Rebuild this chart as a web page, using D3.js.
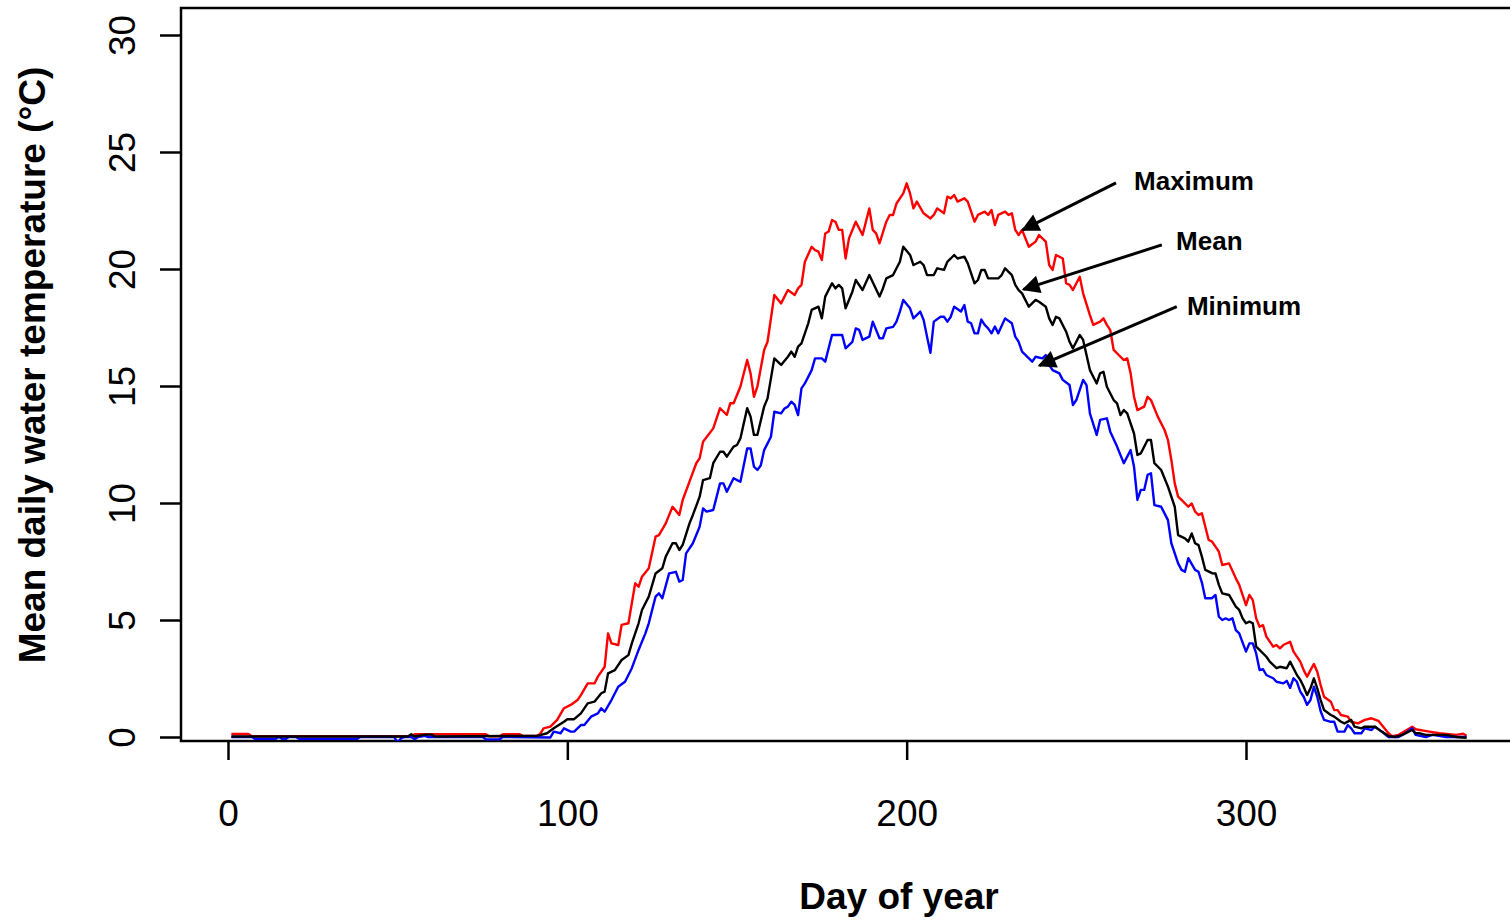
<!DOCTYPE html>
<html>
<head>
<meta charset="utf-8">
<script src="https://cdn.jsdelivr.net/npm/d3@7"></script>
<style>
  body { margin: 0; background: #fff; }
  svg { display: block; font-family: "Liberation Sans", Arial, sans-serif; }
</style>
</head>
<body>
<svg id="chart" width="1510" height="922"></svg>
<script>
// daily water temperature, [day of year, deg C]
const maxSeries = [[1,0.13],[6,0.13],[7,0.03],[54,0.03],[55,0.12],[76,0.12],[77,0.03],[80,0.03],[81,0.12],[86,0.12],[87,0.04],[91,0.05],[92,0.13],
  [93,0.37],[95,0.44],[97,0.73],[99,1.23],[101,1.37],[103,1.58],[104,1.79],[106,2.29],[108,2.29],[109,2.58],[111,3.0],[112,4.43],[113,4.0],[115,3.93],
  [116,4.79],[118,4.86],[119,5.71],[120,6.57],[121,6.42],[122,6.85],[124,7.21],[126,8.56],[127,8.63],[129,9.13],[131,9.84],[133,9.49],[134,10.13],
  [136,10.91],[138,11.7],[139,11.91],[140,12.62],[143,13.19],[145,14.05],[147,13.76],[148,14.26],[149,14.26],[151,14.97],[153,16.11],[154,15.54],
  [155,14.54],[156,14.97],[158,16.54],[159,16.89],[161,18.89],[163,18.53],[164,18.82],[165,19.1],[167,18.89],[168,19.17],[169,19.32],[170,20.31],
  [172,20.95],[173,20.81],[174,20.74],[175,20.38],[176,21.52],[177,21.6],[178,22.09],[179,22.02],[180,21.67],[181,21.67],[182,20.45],[183,21.31],
  [185,22.02],[187,21.45],[189,22.59],[190,21.67],[191,21.52],[192,21.1],[194,22.02],[195,22.31],[196,22.31],[197,22.8],[199,23.23],[200,23.66],
  [201,23.23],[202,22.59],[203,22.88],[205,22.38],[207,22.16],[208,22.31],[209,22.59],[211,22.38],[212,23.09],[213,23.02],[214,23.16],[215,22.88],
  [217,23.02],[218,22.88],[220,22.02],[221,22.31],[223,22.45],[224,22.31],[225,22.52],[226,21.88],[227,22.31],[229,22.45],[230,22.31],[231,22.38],
  [232,21.67],[233,21.45],[234,21.67],[236,20.95],[238,21.17],[239,21.45],[241,21.17],[242,20.17],[243,19.96],[244,20.6],[246,20.45],[247,19.39],
  [248,19.32],[249,19.1],[251,19.67],[252,18.96],[254,18.03],[255,17.61],[257,17.75],[258,17.89],[259,17.61],[260,17.39],[261,16.54],[263,16.25],
  [264,16.11],[265,16.18],[266,15.54],[267,14.54],[268,13.97],[270,14.12],[271,14.54],[272,14.4],[274,13.69],[276,13.12],[277,12.69],[278,11.84],
  [279,10.84],[280,10.27],[281,10.13],[283,9.84],[284,9.98],[285,9.63],[286,9.49],[287,9.56],[289,8.42],[290,8.35],[292,7.92],[293,7.35],[295,7.42],
  [297,6.78],[298,6.5],[300,5.64],[301,6.07],[302,5.85],[303,5.07],[304,4.71],[305,4.78],[306,4.29],[308,3.86],[309,3.93],[310,3.79],[311,3.93],
  [313,4.07],[314,3.65],[316,3.22],[317,2.86],[318,2.58],[319,2.86],[320,3.12],[321,2.79],[322,2.22],[323,1.72],[325,1.51],[326,1.15],[327,1.15],
  [328,0.94],[330,0.87],[331,0.65],[333,0.58],[335,0.73],[337,0.8],[339,0.69],[342,0.16],[343,0.04],[345,0.09],[349,0.44],[350,0.33],[354,0.23],
  [357,0.16],[362,0.09],[364,0.14],[365,0.05]];

const meanSeries = [[1,0.02],[53,0.02],[54,0.12],[55,0.02],[58,0.1],[60,0.1],[61,0.02],[91,0.05],[92,0.08],[94,0.16],[96,0.37],[99,0.65],[100,0.76],
  [102,0.76],[104,1.01],[106,1.44],[108,1.51],[110,1.87],[111,1.94],[112,2.72],[114,2.86],[116,3.29],[118,3.5],[119,4.0],[121,4.86],[122,5.43],
  [124,6.0],[126,6.99],[128,7.21],[129,7.71],[131,8.28],[132,8.28],[133,7.99],[134,8.21],[136,9.13],[137,9.49],[139,10.27],[140,10.98],[142,11.06],
  [143,11.7],[145,12.19],[146,12.19],[147,11.98],[149,12.41],[150,12.48],[151,12.76],[153,14.05],[154,13.69],[155,12.91],[156,12.91],[158,14.12],
  [159,14.47],[161,16.18],[163,15.9],[165,16.25],[166,16.47],[167,16.25],[168,16.68],[169,16.82],[171,17.68],[172,18.25],[174,18.39],[175,17.89],
  [176,18.82],[178,19.39],[179,19.17],[180,19.32],[181,19.17],[182,18.32],[184,19.03],[185,19.53],[187,19.1],[189,19.74],[192,18.82],[193,19.17],
  [194,19.6],[196,19.74],[197,20.03],[198,20.31],[199,20.95],[201,20.6],[202,20.17],[204,20.31],[205,20.17],[206,19.74],[208,19.74],[209,20.03],
  [211,19.96],[212,20.31],[213,20.45],[214,20.6],[215,20.45],[217,20.53],[218,20.24],[220,19.39],[221,19.53],[222,19.96],[223,19.96],[224,19.6],
  [227,19.6],[228,19.74],[229,20.03],[231,19.74],[232,19.32],[233,19.1],[234,18.96],[236,18.39],[238,18.68],[239,18.6],[241,18.39],[242,17.89],
  [243,17.61],[244,17.96],[245,17.89],[247,17.32],[248,16.89],[249,16.61],[251,17.18],[252,16.97],[254,15.68],[256,15.11],[257,15.54],[258,15.61],
  [259,14.97],[261,14.4],[262,14.26],[263,13.76],[264,13.97],[265,13.83],[267,12.97],[268,12.05],[269,12.12],[271,12.69],[272,12.69],[273,11.7],
  [275,11.41],[277,10.7],[279,9.84],[280,8.63],[282,8.49],[283,8.35],[284,8.7],[285,8.28],[286,8.2],[287,7.71],[288,7.14],[290,7.0],[291,6.99],
  [292,6.5],[293,6.14],[295,6.07],[297,5.57],[298,5.43],[299,5.07],[300,4.86],[301,4.93],[302,4.86],[303,3.86],[304,3.72],[306,3.43],[307,3.22],
  [309,2.94],[310,3.0],[312,2.94],[313,3.22],[315,2.65],[316,2.44],[317,2.15],[318,1.79],[319,2.08],[320,2.51],[321,2.08],[322,1.58],[323,1.15],
  [325,0.94],[326,0.87],[328,0.65],[329,0.58],[331,0.73],[332,0.44],[334,0.37],[335,0.44],[338,0.44],[340,0.23],[342,0.04],[344,0.0],[346,0.09],
  [349,0.3],[350,0.16],[351,0.16],[353,0.09],[359,0.09],[362,0.0],[365,-0.03]];

const minSeries = [[1,0.0],[7,0.0],[8,-0.08],[14,-0.08],[15,0.0],[16,-0.08],[17,-0.08],[18,0.0],[20,0.0],[21,-0.08],[38,-0.08],[39,0.0],[49,0.0],
  [50,-0.25],[51,-0.05],[52,0.0],[54,0.0],[55,-0.1],[56,0.0],[58,0.05],[59,0.0],[75,0.0],[76,-0.1],[80,-0.1],[81,0.0],[95,-0.02],[96,0.23],[98,0.16],
  [99,0.37],[101,0.23],[102,0.23],[104,0.51],[105,0.51],[107,0.87],[109,1.01],[110,1.23],[111,1.08],[113,1.58],[115,2.15],[117,2.36],[119,2.94],
  [121,3.72],[123,4.43],[124,4.86],[126,6.0],[127,6.14],[128,5.93],[130,6.99],[132,7.06],[133,6.64],[134,6.71],[135,7.85],[137,8.28],[139,8.99],
  [140,9.77],[141,9.63],[143,9.7],[145,10.84],[146,10.84],[147,10.48],[149,11.06],[150,10.98],[151,10.91],[153,12.33],[154,12.33],[155,11.55],
  [156,11.41],[157,11.6],[158,12.26],[160,12.83],[161,13.9],[163,13.83],[164,14.04],[165,14.12],[166,14.33],[167,14.19],[168,13.76],[169,14.9],
  [170,15.11],[172,15.68],[173,16.18],[175,16.18],[176,16.04],[178,17.18],[181,17.18],[182,16.61],[184,16.89],[185,17.46],[186,17.4],[187,16.97],
  [189,17.11],[190,17.75],[192,17.04],[193,17.04],[194,17.46],[196,17.53],[197,17.75],[198,18.18],[199,18.68],[201,18.32],[202,17.89],[204,18.18],
  [205,17.82],[206,17.11],[207,16.42],[208,17.75],[210,17.96],[211,17.96],[212,17.75],[213,17.96],[214,18.39],[216,18.18],[217,18.46],[218,17.75],
  [219,17.68],[220,17.25],[221,17.25],[222,17.84],[223,17.61],[224,17.46],[225,17.25],[226,17.54],[227,17.25],[229,17.89],[231,17.68],[232,17.11],
  [233,16.89],[234,16.47],[237,16.04],[238,16.25],[240,16.18],[241,16.32],[242,15.9],[243,15.68],[245,15.54],[246,15.26],[248,15.04],[249,14.19],
  [250,14.4],[252,15.26],[253,15.04],[254,13.83],[256,12.91],[257,13.55],[259,13.62],[260,13.05],[262,12.41],[264,11.7],[265,11.98],[266,12.26],
  [267,11.55],[268,10.13],[269,10.56],[270,10.56],[271,11.2],[272,11.27],[273,9.91],[275,9.84],[277,9.27],[278,8.28],[280,7.42],[281,7.14],
  [282,7.06],[283,7.64],[285,7.14],[286,7.06],[287,6.6],[288,5.93],[290,5.93],[291,6.07],[292,5.14],[293,5.0],[294,5.07],[295,5.0],[296,5.07],
  [297,4.57],[298,4.43],[300,3.65],[301,4.0],[302,4.0],[303,3.57],[304,2.86],[305,2.9],[306,2.65],[308,2.51],[309,2.36],[311,2.29],[312,2.4],
  [313,2.1],[314,2.51],[315,2.36],[316,1.94],[317,1.72],[318,1.37],[319,1.58],[320,2.15],[321,1.72],[322,1.1],[323,0.73],[325,0.65],[326,0.65],
  [327,0.23],[329,0.23],[330,0.51],[331,0.37],[332,0.16],[334,0.16],[335,0.37],[337,0.3],[338,0.44],[340,0.23],[342,0.0],[345,0.0],[347,0.16],
  [349,0.37],[350,0.09],[353,0.0],[355,0.09],[359,0.0],[365,0.0]];

const xTicks = [0, 100, 200, 300];
const yTicks = [0, 5, 10, 15, 20, 25, 30];

// arrow annotations: label, label anchor, arrow tail, arrow tip (data units)
const notes = [
  { label: "Maximum", at: [267, 23.38], from: [261.7, 23.68], to: [234.2, 21.67] },
  { label: "Mean",    at: [279.4, 20.8], from: [275.2, 21.03], to: [234.4, 19.13] },
  { label: "Minimum", at: [282.6, 18.03], from: [279.6, 18.39], to: [239.1, 15.87] }
];

const svg = d3.select("#chart");
const box = { left: 181, top: 8, right: 1520, bottom: 741 };

const x = d3.scaleLinear().domain([0, 300]).range([228, 1246]);
const y = d3.scaleLinear().domain([0, 30]).range([737, 35]);

// plot frame
svg.append("rect")
    .attr("x", box.left).attr("y", box.top)
    .attr("width", box.right - box.left).attr("height", box.bottom - box.top)
    .attr("fill", "none").attr("stroke", "black").attr("stroke-width", 2.5);

// x axis: ticks hang below the frame
const xAxis = svg.append("g").attr("transform", `translate(0,${box.bottom})`)
    .call(d3.axisBottom(x).tickValues(xTicks).tickSize(19).tickPadding(66));
xAxis.select(".domain").remove();
xAxis.selectAll("line").attr("stroke-width", 2.5);
xAxis.selectAll("text").attr("font-size", 37).attr("font-family", "Liberation Sans, Arial, sans-serif").attr("dy", 0);

// y axis, labels turned like R's las = 0
const yAxis = svg.append("g").attr("transform", `translate(${box.left},0)`)
    .call(d3.axisLeft(y).tickValues(yTicks).tickSize(21));
yAxis.select(".domain").remove();
yAxis.selectAll("line").attr("stroke-width", 2.5);
yAxis.selectAll("text")
    .attr("font-size", 37).attr("font-family", "Liberation Sans, Arial, sans-serif")
    .attr("text-anchor", "middle")
    .attr("x", null).attr("y", null).attr("dy", null)
    .attr("transform", `translate(${135 - box.left},0) rotate(-90)`);

// axis titles
svg.append("text")
    .text("Day of year")
    .attr("x", 899).attr("y", 909)
    .attr("text-anchor", "middle")
    .style("font-size", "37px").style("font-weight", "bold");
svg.append("text")
    .text("Mean daily water temperature (°C)")
    .attr("transform", "translate(45,365) rotate(-90)")
    .attr("text-anchor", "middle")
    .style("font-size", "37px").style("font-weight", "bold");

// series lines
const line = d3.line().x(d => x(d[0])).y(d => y(d[1]));
svg.append("defs").append("clipPath").attr("id", "plotclip")
    .append("rect").attr("x", box.left).attr("y", box.top)
    .attr("width", box.right - box.left).attr("height", box.bottom - box.top);
const plot = svg.append("g").attr("clip-path", "url(#plotclip)");
[[maxSeries, "#ff0000"], [minSeries, "#0000ff"], [meanSeries, "#000000"]].forEach(([s, c]) => {
    plot.append("path").datum(s)
        .attr("d", line)
        .attr("fill", "none")
        .attr("stroke", c)
        .attr("stroke-width", 2.4)
        .attr("stroke-linejoin", "round");
});

// annotations
svg.append("defs").append("marker")
    .attr("id", "head").attr("viewBox", "0 0 10 10")
    .attr("refX", 9).attr("refY", 5)
    .attr("markerWidth", 7).attr("markerHeight", 6)
    .attr("markerUnits", "strokeWidth")
    .attr("orient", "auto")
    .append("path").attr("d", "M0,0 L10,5 L0,10 z").attr("fill", "black");

notes.forEach(n => {
    svg.append("line")
        .attr("x1", x(n.from[0])).attr("y1", y(n.from[1]))
        .attr("x2", x(n.to[0])).attr("y2", y(n.to[1]))
        .attr("stroke", "black").attr("stroke-width", 3)
        .attr("marker-end", "url(#head)");
    svg.append("text")
        .text(n.label)
        .attr("x", x(n.at[0])).attr("y", y(n.at[1]))
        .style("font-size", "26px").style("font-weight", "bold");
});
</script>
</body>
</html>
